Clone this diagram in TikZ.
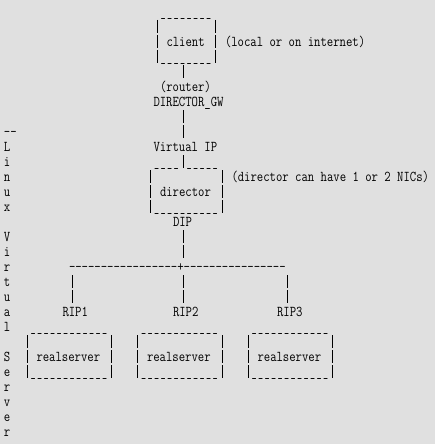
\documentclass[tikz,border=0pt]{standalone}
\usepackage{graphicx}
\definecolor{bgc}{RGB}{224,224,224}
\newcommand\sx[1]{\scalebox{0.825}[1]{#1}}
\newcommand\rep[2]{\foreach\ri in {1,...,#1}{#2}}
\newcommand\us{\makebox[7.875pt][c]{\scalebox{0.8}[1]{\_}}}
\newcommand\gap{\makebox[7.875pt]{}}
\tikzset{
  asc/.style={anchor=base west, inner sep=0pt, outer sep=0pt, text=black, font=\fontsize{15}{15}\selectfont\ttfamily},
  vbar/.style={draw=black, line width=0.7pt, dash pattern=on 13pt off 2pt, line cap=butt}}
\newcommand\putrow[4]{\node[asc] (#1) at ({4pt+6.5pt*#2},{-16.5pt-15pt*#3}) {\sx{#4}};}
% vertical ASCII bars: name, column, first row, last row
\newcommand\vbars[4]{%
  \coordinate (#1a) at ({7.5pt+6.5pt*#2},{-5pt-15pt*#3});
  \coordinate (#1b) at ({7.5pt+6.5pt*#2},{-18pt-15pt*#4});
  \draw[vbar] (#1a) -- (#1b);}
\begin{document}
\begin{tikzpicture}
\fill[bgc] (0,0) rectangle (435pt,-444pt);
\useasboundingbox (0,0) rectangle (435pt,-444pt);
% client box
\putrow{ctop}{24}{0}{\rep{8}{\us}}
\putrow{client}{25}{2}{client}
\putrow{cnote}{34}{2}{(local or on internet)}
\putrow{cbot}{24}{3}{\rep{8}{\us}}
\vbars{cL}{23}{1}{3}\vbars{cR}{32}{1}{3}
\vbars{c4}{27}{4}{4}
\putrow{router}{24}{5}{(router)}
\putrow{gw}{23}{6}{DIRECTOR\_GW}
\vbars{c78}{27}{7}{8}
\putrow{vip}{23}{9}{Virtual IP}
% director box
\putrow{dtop}{23}{10}{\rep{4}{\us}\gap\rep{5}{\us}}
\vbars{d10}{27}{10}{10}
\putrow{dnote}{35}{11}{(director can have 1 or 2 NICs)}
\putrow{director}{24}{12}{director}
\putrow{dbot}{23}{13}{\rep{10}{\us}}
\vbars{dL}{22}{11}{13}\vbars{dR}{33}{11}{13}
\putrow{dip}{26}{14}{DIP}
\vbars{d1516}{27}{15}{16}
\putrow{bus}{10}{17}{\rep{17}{-}+\rep{16}{-}}
\vbars{b1}{10}{18}{19}\vbars{b2}{27}{18}{19}\vbars{b3}{43}{18}{19}
\putrow{rip1}{9}{20}{RIP1}\putrow{rip2}{26}{20}{RIP2}\putrow{rip3}{42}{20}{RIP3}
% realserver boxes
\putrow{s1top}{4}{21}{\rep{12}{\us}}\putrow{s2top}{21}{21}{\rep{12}{\us}}\putrow{s3top}{38}{21}{\rep{12}{\us}}
\putrow{rs1}{5}{23}{realserver}\putrow{rs2}{22}{23}{realserver}\putrow{rs3}{39}{23}{realserver}
\putrow{s1bot}{4}{24}{\rep{12}{\us}}\putrow{s2bot}{21}{24}{\rep{12}{\us}}\putrow{s3bot}{38}{24}{\rep{12}{\us}}
\vbars{s1L}{3}{22}{24}\vbars{s1R}{16}{22}{24}
\vbars{s2L}{20}{22}{24}\vbars{s2R}{33}{22}{24}
\vbars{s3L}{37}{22}{24}\vbars{s3R}{50}{22}{24}
% vertical title
\putrow{t0}{0}{8}{-{}-}
\putrow{t1}{0}{9}{L}\putrow{t2}{0}{10}{i}\putrow{t3}{0}{11}{n}\putrow{t4}{0}{12}{u}\putrow{t5}{0}{13}{x}
\putrow{t6}{0}{15}{V}\putrow{t7}{0}{16}{i}\putrow{t8}{0}{17}{r}\putrow{t9}{0}{18}{t}\putrow{t10}{0}{19}{u}\putrow{t11}{0}{20}{a}\putrow{t12}{0}{21}{l}
\putrow{t13}{0}{23}{S}\putrow{t14}{0}{24}{e}\putrow{t15}{0}{25}{r}\putrow{t16}{0}{26}{v}\putrow{t17}{0}{27}{e}\putrow{t18}{0}{28}{r}
\end{tikzpicture}
\end{document}
